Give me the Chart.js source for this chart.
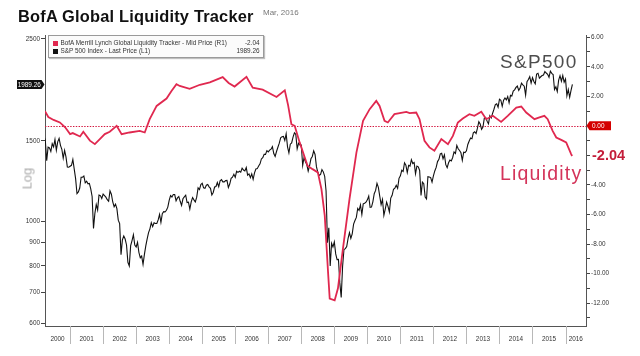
<!DOCTYPE html>
<html><head><meta charset="utf-8">
<script src="https://cdn.jsdelivr.net/npm/chart.js@4/dist/chart.umd.min.js"></script>
<style>
html,body{margin:0;padding:0;background:#fff;}
#wrap{position:relative;width:640px;height:356px;overflow:hidden;font-family:"Liberation Sans",Arial,sans-serif;}
#c{position:absolute;left:0;top:0;}
.t{position:absolute;white-space:nowrap;line-height:1;}
#title{left:18px;top:7.8px;font-weight:bold;font-size:16.4px;color:#111;letter-spacing:0.2px;}
#date{left:263px;top:9.4px;font-size:8px;color:#777;}
#spx{left:500px;top:52.2px;font-size:19px;color:#4d4d4d;letter-spacing:1.3px;}
#liq{left:500px;top:164.2px;font-size:19.5px;color:#d4345a;letter-spacing:1.2px;}
#logl{left:13px;top:172px;font-size:13px;color:#aaa;transform:rotate(-90deg);transform-origin:center center;width:28px;text-align:center;}
#legend{position:absolute;left:47.5px;top:35px;width:214px;height:21px;border:1px solid #9a9a9a;background:#fbfbfb;box-shadow:1px 1px 1px rgba(0,0,0,0.25);}
.sq{position:absolute;width:5px;height:5px;left:4px;}
.lt{position:absolute;left:12px;font-size:6.4px;color:#333;white-space:nowrap;line-height:1;}
.lv{position:absolute;right:3px;font-size:6.4px;color:#333;white-space:nowrap;line-height:1;}
</style>
</head><body>
<div id="wrap">
<canvas id="c" width="640" height="356"></canvas>
<div class="t" id="title">BofA Global Liquidity Tracker</div>
<div class="t" id="date">Mar, 2016</div>
<div class="t" id="spx">S&amp;P500</div>
<div class="t" id="liq">Liquidity</div>
<div class="t" id="logl">Log</div>
<div id="legend">
  <div class="sq" style="top:4.5px;background:#e0284f"></div>
  <div class="lt" style="top:4px">BofA Merrill Lynch Global Liquidity Tracker - Mid Price (R1)</div>
  <div class="lv" style="top:4px">-2.04</div>
  <div class="sq" style="top:12.5px;background:#111"></div>
  <div class="lt" style="top:12px">S&amp;P 500 Index - Last Price (L1)</div>
  <div class="lv" style="top:12px">1989.26</div>
</div>
</div>
<script>
// ---- data ----
const years = [2000,2001,2002,2003,2004,2005,2006,2007,2008,2009,2010,2011,2012,2013,2014,2015,2016];
const leftTicks = [600,700,800,900,1000,1500,2500];
const rightTicks = [-13,-12,-11,-10,-9,-8,-7,-6,-5,-4,-3,-2,-1,0,1,2,3,4,5,6];
// S&P 500, semi-monthly (mid-month, month-end), from mid-Mar 2000 to Mar 2016
const spxStartYear = 2000, spxStartMonth = 2.5; // mid-March 2000
const spxValues = [
1460,1499,1357,1452,1447,1421,1478,1455,1509,1431,1492,1518,1466,1437,1374,1429,1383,1315,1313,1320,
1326,1366,1301,1240,1150,1160,1183,1249,1249,1256,1214,1224,1208,1211,1178,1134,966,1041,1089,1060,1142,1139,1123,1148,
1139,1130,1116,1107,1166,1147,1103,1077,1091,1067,1007,990,847,912,930,916,889,815,800,886,909,936,889,880,
901,856,834,841,807,848,885,917,946,964,994,975,994,990,990,1008,1036,996,1040,1051,1050,1058,1075,1112,
1139,1131,1145,1145,1110,1126,1134,1107,1084,1121,1132,1141,1100,1102,1064,1104,1128,1115,1103,1130,1184,1174,1204,1212,
1184,1181,1200,1204,1190,1181,1143,1157,1189,1192,1216,1191,1227,1234,1220,1220,1228,1229,1186,1207,1242,1249,1267,1248,
1287,1280,1287,1281,1307,1295,1289,1311,1262,1270,1246,1270,1236,1277,1302,1304,1322,1336,1369,1378,1401,1401,1427,1418,
1431,1438,1456,1407,1386,1421,1452,1482,1522,1531,1533,1503,1553,1455,1411,1474,1484,1527,1561,1549,1441,1481,1468,1468,
1325,1379,1349,1331,1288,1323,1370,1386,1426,1400,1317,1280,1260,1267,1298,1283,1255,1166,899,969,800,896,880,903,
850,826,827,735,683,798,869,873,882,919,946,919,940,987,1005,1021,1068,1057,1087,1036,1093,1096,1102,1115,
1136,1074,1075,1104,1150,1169,1211,1187,1136,1089,1117,1031,1064,1102,1079,1049,1125,1141,1176,1183,1199,1181,1242,1258,
1293,1286,1343,1327,1279,1326,1320,1364,1338,1345,1271,1321,1316,1292,1140,1219,1209,1131,1120,1253,1251,1247,1219,1258,
1289,1312,1351,1366,1404,1408,1370,1398,1330,1310,1343,1362,1356,1379,1418,1407,1465,1441,1428,1412,1359,1416,1413,1426,
1472,1498,1520,1515,1560,1569,1555,1598,1650,1631,1588,1606,1680,1686,1655,1633,1700,1682,1721,1757,1798,1806,1775,1848,
1838,1783,1838,1859,1841,1872,1815,1884,1878,1924,1936,1960,1973,1931,1955,2003,1985,1972,1886,2018,2039,2068,2003,2059,
2019,1995,2097,2105,2053,2068,2081,2086,2122,2107,2094,2063,2126,2104,2091,1940,1966,1920,2033,2079,2023,2080,2012,2044,
1880,1940,1865,1932,1989.26
];
// Liquidity tracker (decimal year, value)
const liqDates = [2000.24,2000.34,2000.50,2000.69,2000.85,2001.00,2001.08,2001.30,2001.40,2001.60,2001.75,2001.90,2002.05,2002.20,2002.41,2002.56,2002.80,2003.11,2003.26,2003.41,2003.62,2003.92,2004.07,2004.22,2004.32,2004.62,2004.93,2005.23,2005.62,2005.80,2005.98,2006.34,2006.53,2006.83,2007.25,2007.50,2007.60,2007.70,2007.80,2007.95,2008.19,2008.34,2008.50,2008.61,2008.71,2008.81,2008.86,2009.01,2009.11,2009.26,2009.46,2009.67,2009.87,2010.07,2010.27,2010.37,2010.52,2010.62,2010.82,2011.18,2011.28,2011.48,2011.58,2011.73,2011.88,2012.03,2012.24,2012.44,2012.59,2012.74,2012.89,2013.09,2013.24,2013.45,2013.60,2013.80,2014.05,2014.25,2014.51,2014.66,2014.81,2015.06,2015.21,2015.36,2015.46,2015.61,2015.72,2015.87,2016.02,2016.17,2016.20];
const liqValues = [1.0,0.6,0.4,0.23,-0.1,-0.56,-0.49,-0.72,-0.40,-1.0,-1.24,-0.9,-0.56,-0.4,0.0,-0.56,-0.45,-0.34,-0.45,0.45,1.35,1.85,2.36,2.82,2.7,2.5,2.78,2.95,3.3,2.9,2.66,3.32,2.58,2.45,1.95,2.4,1.4,0.11,0.0,-1.12,-2.7,-2.93,-3.15,-4.28,-6.08,-9.9,-11.7,-11.82,-11.0,-8.33,-4.95,-1.8,0.34,1.13,1.69,1.35,0.34,0.23,0.79,0.95,0.86,0.9,0.45,-1.01,-1.46,-1.69,-0.9,-1.24,-0.68,0.23,0.5,0.79,0.68,0.95,0.45,0.68,0.27,0.68,1.24,1.31,0.9,0.45,0.57,0.68,0.45,-0.34,-0.79,-0.95,-1.12,-1.91,-2.04];
const xMin = 2000.24, xMax = 2016.62;

// ---- build ----
const spxData = spxValues.map((v,i)=>({x: spxStartYear + (spxStartMonth + 0.5*i)/12, y: v}));
const liqData = liqDates.map((d,i)=>({x:d, y:liqValues[i]}));
const lastSpx = spxValues[spxValues.length-1];
const lastLiq = liqValues[liqValues.length-1];

Chart.defaults.font.family = '"Liberation Sans", Arial, sans-serif';
Chart.defaults.animation = false;

const overlay = {
  id:'overlay',
  beforeDatasetsDraw(chart){
    const {ctx, chartArea:a, scales:{y1}} = chart;
    const y0 = Math.round(y1.getPixelForValue(0)) + 0.5;
    ctx.save();
    ctx.strokeStyle = '#d3173f'; ctx.lineWidth = 1.2; ctx.setLineDash([1.4,1.4]);
    ctx.beginPath(); ctx.moveTo(a.left, y0); ctx.lineTo(a.right, y0); ctx.stroke();
    ctx.restore();
  },
  afterDraw(chart){
    const {ctx, chartArea:a, scales:{x,y,y1}} = chart;
    ctx.save();
    // year separators
    ctx.strokeStyle = '#b8b8b8'; ctx.lineWidth = 1;
    years.forEach(yr=>{
      if (yr <= xMin || yr >= xMax) return;
      const px = Math.round(x.getPixelForValue(yr)) + 0.5;
      ctx.beginPath(); ctx.moveTo(px, a.bottom); ctx.lineTo(px, a.bottom + 18); ctx.stroke();
    });
    // 0.00 red box on right axis
    const y0 = y1.getPixelForValue(0);
    ctx.fillStyle = '#d40000';
    ctx.beginPath();
    ctx.moveTo(a.right + 0.5, y0); ctx.lineTo(a.right + 3.5, y0 - 4.5); ctx.lineTo(a.right + 25, y0 - 4.5);
    ctx.lineTo(a.right + 25, y0 + 4.5); ctx.lineTo(a.right + 3.5, y0 + 4.5); ctx.closePath(); ctx.fill();
    ctx.fillStyle = '#fff'; ctx.font = '6.4px "Liberation Sans", Arial'; ctx.textBaseline = 'middle'; ctx.textAlign = 'left';
    ctx.fillText('0.00', a.right + 6, y0 + 0.5);
    // last price box on left axis
    const yb = y.getPixelForValue(lastSpx);
    ctx.fillStyle = '#111';
    ctx.beginPath();
    ctx.moveTo(a.left - 0.5, yb); ctx.lineTo(a.left - 3.5, yb - 4.5); ctx.lineTo(17, yb - 4.5);
    ctx.lineTo(17, yb + 4.5); ctx.lineTo(a.left - 3.5, yb + 4.5); ctx.closePath(); ctx.fill();
    ctx.fillStyle = '#fff'; ctx.textAlign = 'center';
    ctx.fillText(lastSpx.toFixed(2), (17 + a.left - 3.5)/2, yb + 0.5);
    // last liquidity value label
    const yl = y1.getPixelForValue(lastLiq);
    ctx.fillStyle = '#c41e3a'; ctx.font = 'bold 14.5px "Liberation Sans", Arial'; ctx.textAlign = 'left';
    ctx.fillText(lastLiq.toFixed(2), 592, yl);
    ctx.restore();
  }
};

new Chart(document.getElementById('c'), {
  type: 'line',
  data: { datasets: [
    { label:'BofA Merrill Lynch Global Liquidity Tracker', data: liqData, yAxisID:'y1', borderColor:'#e0284f', borderWidth:1.8, pointRadius:0, tension:0, fill:false },
    { label:'S&P 500 Index', data: spxData, yAxisID:'y', borderColor:'#111', borderWidth:1.1, pointRadius:0, tension:0, fill:false }
  ]},
  options: {
    responsive:false, devicePixelRatio:1,
    layout:{ padding:{ top:35, left:0, right:0, bottom:0 } },
    plugins:{ legend:{display:false}, tooltip:{enabled:false}, title:{display:false} },
    scales:{
      x:{ type:'linear', position:'bottom', min:xMin, max:xMax,
        afterBuildTicks: s => { s.ticks = years.map(yr => ({ value: (Math.max(yr, xMin) + Math.min(yr+1, xMax))/2, label: String(yr) })); },
        ticks:{ autoSkip:false, maxRotation:0, padding:9, color:'#333', font:{size:6.4}, callback:(v,i)=>String(years[i]) },
        grid:{ display:true, drawOnChartArea:false, drawTicks:false },
        border:{ display:true, color:'#555', width:1 },
        afterFit: s => { s.height = 30; }
      },
      y:{ type:'logarithmic', position:'left', min:592, max:2550,
        afterBuildTicks: s => { s.ticks = leftTicks.map(v => ({value:v})); },
        ticks:{ autoSkip:false, padding:1, color:'#333', font:{size:6.4}, callback: v => String(v) },
        grid:{ drawOnChartArea:false, drawTicks:true, tickLength:4, color:'#444' },
        border:{ display:true, color:'#555', width:1 },
        afterFit: s => { s.width = 45; }
      },
      y1:{ type:'linear', position:'right', min:-13.55, max:6.15,
        afterBuildTicks: s => { s.ticks = rightTicks.map(v => ({value:v})); },
        ticks:{ autoSkip:false, padding:1, color:'#333', font:{size:6.4},
          callback: v => (v % 2 === 0 && v !== 0 && v !== -2) ? v.toFixed(2) : '' },
        grid:{ drawOnChartArea:false, drawTicks:true, tickLength:4, color:'#444' },
        border:{ display:true, color:'#555', width:1 },
        afterFit: s => { s.width = 54; }
      }
    }
  },
  plugins:[overlay]
});
</script>
</body></html>
